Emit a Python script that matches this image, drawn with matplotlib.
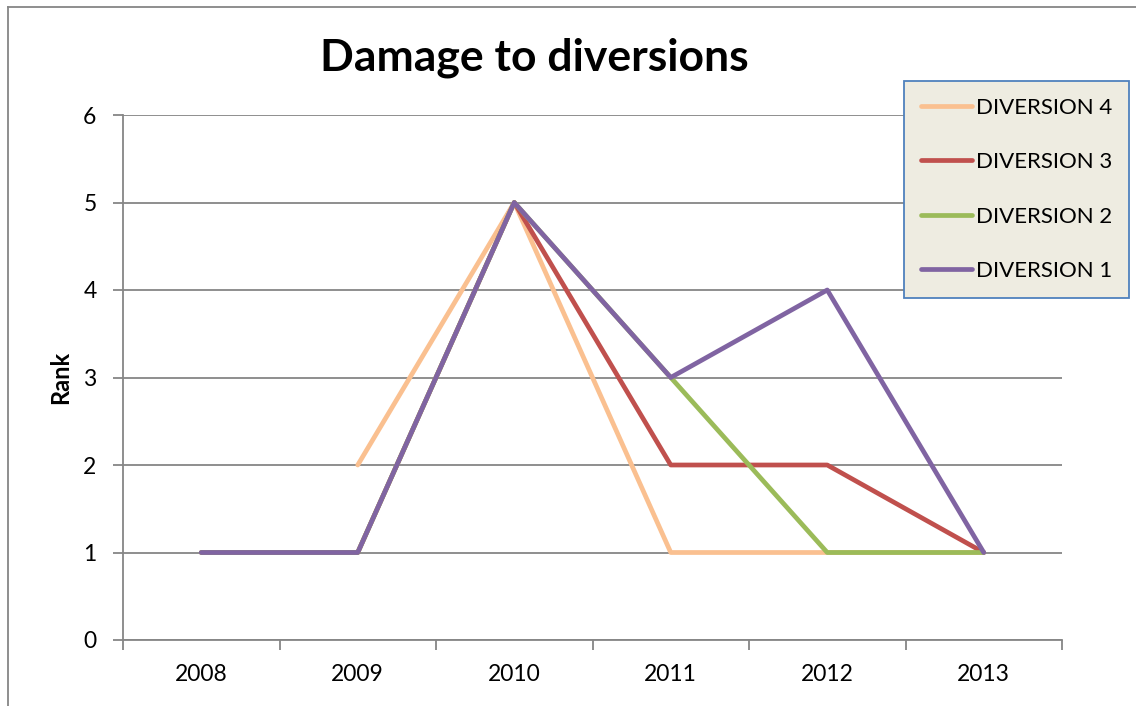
import numpy as np
import matplotlib
matplotlib.use("Agg")
import matplotlib.pyplot as plt
from matplotlib.lines import Line2D

plt.rcParams['font.family'] = ['Lato', 'DejaVu Sans']

years = ["2008", "2009", "2010", "2011", "2012", "2013"]
series_names = ["DIVERSION 4", "DIVERSION 3", "DIVERSION 2", "DIVERSION 1"]
diversion_4 = [np.nan, 2, 5, 1, 1, 1]
diversion_3 = [1, 1, 5, 2, 2, 1]
diversion_2 = [1, 1, 5, 3, 1, 1]
diversion_1 = [1, 1, 5, 3, 4, 1]
series_values = [diversion_4, diversion_3, diversion_2, diversion_1]
series_colors = ["#FAC090", "#C0504D", "#9BBB59", "#8064A2"]

grid_color = "#868686"
line_w = 3.4

fig = plt.figure(figsize=(11.36, 7.06), dpi=100)
ax = fig.add_axes([123 / 1136, 66 / 706, (1062 - 123) / 1136, (640 - 115) / 706])

x = np.arange(len(years))
for name, vals, color in zip(series_names, series_values, series_colors):
    ax.plot(x, vals, color=color, lw=line_w, solid_capstyle="round",
            solid_joinstyle="round", label=name, zorder=3)

ax.set_xlim(-0.5, len(years) - 0.5)
ax.set_ylim(0, 6)
ax.set_yticks(range(0, 7))
ax.yaxis.grid(True, color=grid_color, lw=1.3)
ax.set_axisbelow(True)

# category boundaries carry tick marks, labels sit at the centres
ax.set_xticks(np.arange(-0.5, len(years), 1.0))
ax.set_xticklabels([])
ax.set_xticks(x, minor=True)
ax.set_xticklabels(years, minor=True)
ax.tick_params(axis="x", which="major", length=7, width=1.3, color=grid_color)
ax.tick_params(axis="x", which="minor", length=0, pad=17, labelsize=16.5)
ax.tick_params(axis="y", length=7, width=1.3, color=grid_color, labelsize=16.5, pad=12)

for side in ("top", "right"):
    ax.spines[side].set_visible(False)
for side in ("left", "bottom"):
    ax.spines[side].set_color(grid_color)
    ax.spines[side].set_linewidth(1.3)

ax.set_ylabel("Rank", fontsize=17, fontweight="bold", labelpad=8)

fig.text(534 / 1136, 1 - 58 / 706, "Damage to diversions", ha="center", va="center",
         fontsize=32, fontweight="bold")

handles = [Line2D([0], [0], color=c, lw=line_w, solid_capstyle="round") for c in series_colors]
leg = fig.legend(handles, series_names, loc="upper left",
                 bbox_to_anchor=(904 / 1136, 1 - 81 / 706),
                 fontsize=16, frameon=True, fancybox=False,
                 facecolor="#EEECE1", edgecolor="#4F81BD",
                 handlelength=2.3, handletextpad=0.2, labelspacing=1.55,
                 borderpad=0.75, borderaxespad=0)
leg.get_frame().set_linewidth(1.3)
leg.get_frame().set_alpha(1)

# outer chart frame (left and top edges)
fig.add_artist(Line2D([7.5 / 1136, 7.5 / 1136], [0, 1 - 7 / 706],
                      transform=fig.transFigure, color=grid_color, lw=1.3))
fig.add_artist(Line2D([7.5 / 1136, 1], [1 - 7 / 706, 1 - 7 / 706],
                      transform=fig.transFigure, color=grid_color, lw=1.3))

fig.savefig("out.png", dpi=100)
